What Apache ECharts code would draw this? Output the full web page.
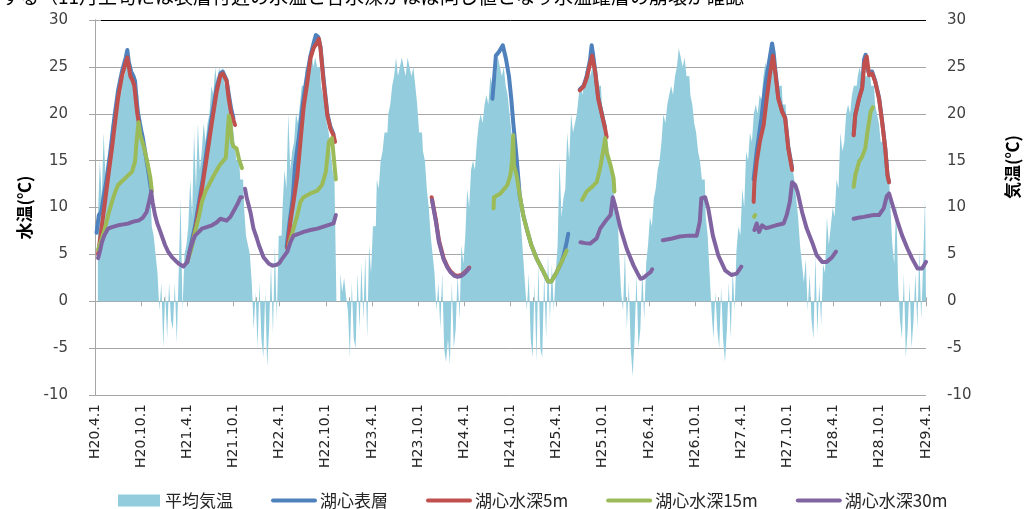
<!DOCTYPE html>
<html>
<head>
<meta charset="utf-8">
<script src="https://cdn.jsdelivr.net/npm/echarts@6/dist/echarts.min.js"></script>
<style>
html,body{margin:0;padding:0;background:#fff;}
#main{width:1025px;height:509px;}
</style>
</head>
<body>
<div id="main"></div>
<script>
// x = months since H20.4.1 ; air temp sampled every quarter month
var tickLabels = ['H20.4.1','H20.10.1','H21.4.1','H21.10.1','H22.4.1','H22.10.1','H23.4.1','H23.10.1',
	'H24.4.1','H24.10.1','H25.4.1','H25.10.1','H26.4.1','H26.10.1','H27.4.1','H27.10.1','H28.4.1','H28.10.1','H29.4.1'];

var airH20 = [null,null,9,15, 11,18,13,15, 16,19,17,20, 21,24,22,24.5, 24,26,25,25, 24,24,23,22, 20,19,17,16, 15,13,8,7, 5,3,-1,2, -5,1,-4,2, -2,-3,2,-4.5, 3,11,-1,5];
var airH21 = [6,8,13,9, 18,12,19,14, 16,19,17,19, 20,23,22,25, 23,25,24,25, 23,23,21,21, 19,17,15,15, 13,13,10,7, 6,5,2,-3, 1,-5,2,-4, -6,1,-7,-3, 4,-3.5,6,-2];
var airH22 = [7,7,10,14, 12,20,14,16, 17,20,19,21, 23,23,25,24, 25,26.5,25,26, 25,25,23,22, 21,19,18,16, 14,13,null,null, 3,1,2.5,0.5, -1,-6,2,-4, -5,3,-3,4, -2,5,-4,6];
var airH23 = [3,8,8,13, 12,15,16,18, 18,20,21,23, 24,26,24,25, 26,25,24,26, 25,24,25,23, 21,18,18,16, 15,12,10,7, 5,3,-1,2, -3,3,-5,-6.5, -4,-6.8,2,-5, -3,3,-2,6];
var airH24 = [4,7,12,10, 14,15,14,17, 19,20,19,21, 22,21,24,23, 25,24,26,25, 24,25,23,22, 20,18,16,14, 12,11,8,5, 2,-1,3,-4, -6,2,-6.5,4, -5,-6,3,-4, 5,-2,4,-1];
var airH25 = [3,6,15,9, 11,12,18,15, 20,18,19,20, 22,23,22,24, 25,26,24,25, 24,24,23,23, 21,20,18,17, 15,14,12,9, 10,5,1,-1, 5.5,-3,2,-5, -8,-4,3,-5, -3,3.5,-2,4];
var airH26 = [6,9,8,11, 12,14,15,17, 20,19,21,22, 23,22,24,25, 27,26,25,26, 24,24,22,21, 19,18,16,15, 13,13,9,7, 3,-1,-4,1, -3,-5,1.5,-4, -6.5,-3,2,-4, 3.5,-1,5.5,8];
var airH27 = [7,12,10,16, 15,18,17,20, 21,20,22,21.5, 24,25.5,24,25, 24,26,25,24, 23,23,21,21, 19,17,16,14.5, 13,11,9,6, 4,2,4.5,-1, 3,-2,-4,5, -3.5,2,-2.5,4, 3,9,6,8];
var airH28 = [10,9,13,12, 18,16,17,20, 21,20,22,23, 23,24,25,24, 25,24,24,25, 23,23,21,20, 19,17,17,15, 14,14.5,10,6, 4,10.5,2,-2, -4,3,-6,-3, 2,-5,-2,3, -3,5.5,-2,4, 11];

// water temperature segments: [month, value]
var surface = [
	[[0.2,7.3],[0.4,7.5],[0.5,9.2],[0.8,9.5],[1.1,11],[1.5,13],[2.0,16],[2.5,19.5],[3.0,22.5],[3.5,24.5],[4.0,26],[4.2,26.8],[4.4,25.5],[4.7,24.5],[5.0,24],[5.2,23.5],[5.5,20.5],[5.8,19],[6.2,17.5],[6.6,15.5],[7.0,13.5],[7.3,11.8]],
	[[12.0,4.3],[12.4,5.8],[13.0,8],[13.5,10.5],[14.0,13],[14.5,16],[15.2,19.8],[15.8,22.8],[16.3,24.3],[16.6,24.5],[17.1,23.6],[17.4,22],[17.7,20.5],[18.0,19.5]],
	[[24.9,5.8],[25.3,8.5],[25.7,11],[26.0,14.5],[26.5,17.5],[27.0,21],[27.5,23.8],[28.0,26.2],[28.4,27.5],[28.7,28.4],[29.0,28.2],[29.3,27.2],[29.7,23.8],[30.2,20],[30.6,18.6],[31.0,17.8]],
	[[51.65,21.6],[51.9,24.1],[52.1,26.2],[52.5,26.6],[53.0,27.3],[53.4,25.9],[53.8,24],[54.1,21.6],[54.35,19.1],[54.6,17],[54.8,15.2],[55.2,11.3],[55.65,9.2],[56.1,7.75],[56.7,6],[57.4,4.55],[58.3,3.1],[58.9,2.1],[59.3,2.1],[60.0,3.1],[60.65,4.2],[61.0,5.2],[61.3,6.3],[61.5,7.2]],
	[[63.0,22.6],[63.5,23],[63.9,24],[64.3,25.5],[64.55,27.3],[64.7,26.5],[65.0,24.6],[65.4,21.7],[65.9,19.9],[66.3,18.5]],
	[[85.6,13],[86.0,16],[86.6,19.5],[87.1,23],[87.6,25.5],[88.0,27.5],[88.2,26.5],[88.4,24.8],[88.8,21.8],[89.3,20.3],[89.7,19.6],[90.1,16.5],[90.6,14.2]],
	[[98.6,17.8],[98.8,19.9],[99.3,21.7],[99.7,22.8],[99.95,25.8],[100.15,26.3],[100.5,24.5],[101.0,24.5],[101.4,23.5],[101.9,21.7],[102.3,19.2],[102.7,16.4],[103.0,13.5],[103.2,12.7]]
];
var depth5 = [
	[[0.4,5],[0.8,7.5],[1.3,10.6],[1.75,13.5],[2.2,16.3],[2.6,19],[3.0,21.7],[3.5,24],[4.0,25.5],[4.2,26],[4.4,25],[4.6,24],[4.9,23.5],[5.1,23],[5.3,21.5],[5.5,20],[5.7,19]],
	[[12.0,4.2],[12.4,5.5],[12.7,6.3],[13.0,7.5],[13.3,8.8],[13.9,12],[14.5,15.2],[15.2,19.1],[15.8,22.3],[16.3,24.1],[16.6,24.3],[17.1,23.5],[17.4,21.5],[17.7,20],[18.0,19.3],[18.2,18.8]],
	[[25.0,5.6],[25.4,8.5],[25.8,10.6],[26.3,13.4],[26.7,17],[27.1,20.6],[27.6,23.4],[28.0,25.9],[28.4,27],[28.8,27.5],[29.1,28],[29.3,27],[29.7,23.4],[30.2,19.8],[30.6,18.4],[31.0,17.7],[31.2,17]],
	[[43.75,11.1],[44.3,8.7],[44.7,6.5],[45.3,4.6],[45.8,3.7],[46.2,3.2],[46.7,2.8],[47.1,2.7],[47.6,2.8],[48.0,3.05],[48.3,3.3],[48.65,3.6]],
	[[63.0,22.5],[63.5,22.9],[63.9,23.8],[64.3,25.2],[64.6,26.2],[65.0,24.5],[65.4,21.6],[65.9,19.8],[66.3,18.4],[66.5,17.5]],
	[[85.6,10.6],[85.7,12.7],[86.0,14.9],[86.4,17],[86.9,18.8],[87.3,21.6],[87.7,24.1],[88.1,26.2],[88.4,24.5],[88.8,21.6],[89.3,20.2],[89.7,19.5],[90.1,16.3],[90.6,14]],
	[[98.6,17.7],[98.8,19.8],[99.3,21.6],[99.7,22.7],[100.0,25.5],[100.3,26.1],[100.6,24.1],[101.0,24.3],[101.4,23.4],[101.9,21.6],[102.3,19.1],[102.7,16.3],[103.0,13.4],[103.2,12.7]]
];
var depth15 = [
	[[0.4,5.5],[0.8,6.5],[1.3,7.8],[1.75,9.3],[2.2,10.6],[2.6,11.6],[3.0,12.4],[3.5,12.8],[3.9,13.1],[4.4,13.5],[4.8,13.8],[5.2,14.9],[5.4,17],[5.65,19.1],[5.9,17.7],[6.3,16.6],[6.7,15.2],[7.0,14],[7.2,13.1],[7.4,11.7]],
	[[12.0,4.2],[12.5,5.5],[13.0,7.4],[13.5,9],[13.9,10.6],[14.4,11.8],[14.8,12.4],[15.3,13.2],[15.7,13.8],[16.2,14.5],[16.6,14.9],[17.0,15.3],[17.2,17.5],[17.4,19.8],[17.6,19],[17.8,17],[18.0,16.5],[18.4,16.3],[18.7,15.2],[19.1,14.2]],
	[[25.2,6],[25.8,7.75],[26.3,9.2],[26.7,10.6],[27.1,11.1],[28.0,11.5],[28.9,11.8],[29.5,12.4],[30.0,13.8],[30.4,17],[30.8,17.4],[31.0,15.6],[31.3,13]],
	[[51.8,9.9],[51.85,11.1],[52.7,11.5],[53.2,12],[53.6,12.4],[54.0,13.5],[54.2,15],[54.35,17.7],[54.45,14.5],[54.8,13.4],[55.2,11.3],[55.65,9.2],[56.1,7.75],[56.7,6],[57.4,4.55],[58.3,3.1],[58.9,2.1],[59.3,2.1],[60.0,3.1],[60.65,4.2],[61.3,5.4]],
	[[63.3,10.8],[63.9,11.7],[64.6,12.2],[65.2,12.7],[65.65,14.2],[66.1,16.3],[66.3,17.4],[66.5,15.9],[67.0,14.5],[67.4,13.1],[67.5,11.7]],
	[[85.65,9.0],[85.8,9.2]],
	[[98.6,12.2],[98.8,13.4],[99.3,14.9],[99.7,15.4],[100.1,16.3],[100.4,18.1],[100.8,20.2],[101.1,20.7]]
];
var depth30 = [
	[[0.4,4.6],[0.6,5.2],[0.9,6.3],[1.2,7.0],[1.7,7.75],[2.2,7.9],[3.0,8.1],[3.7,8.2],[4.35,8.3],[5.0,8.5],[5.65,8.6],[6.2,8.9],[6.7,9.5],[7.0,10.5],[7.3,11.7],[7.5,10.5],[7.8,9.2],[8.1,8.3],[8.5,7.4],[9.1,6.0],[9.5,5.3],[10.0,4.7],[10.5,4.3],[10.9,4.0],[11.5,3.7],[12.0,4.2],[12.4,5.6],[12.7,6.4],[13.0,7.0],[13.5,7.4],[13.9,7.75],[14.5,7.9],[15.2,8.1],[15.8,8.4],[16.3,8.8],[17.1,8.6],[17.6,9.0],[18.2,9.9],[18.6,10.5],[18.9,11.1],[19.1,11.1]],
	[[19.5,12.0],[19.7,11.1],[20.2,9.5],[20.6,7.75],[21.0,6.8],[21.3,6.0],[21.9,4.7],[22.6,4.0],[23.1,3.8],[23.65,3.9],[24.0,4.1],[24.3,4.5],[25.0,5.3],[25.4,6.3],[25.8,7.0],[26.5,7.2],[27.1,7.4],[28.0,7.6],[28.9,7.75],[30.2,8.1],[31.0,8.3],[31.3,9.2]],
	[[43.8,10.8],[44.3,8.5],[44.7,6.3],[45.3,4.5],[45.8,3.6],[46.2,3.1],[46.7,2.7],[47.1,2.6],[47.6,2.7],[48.0,2.95],[48.3,3.2],[48.6,3.5]],
	[[63.1,6.3],[63.7,6.2],[64.35,6.15],[65.2,6.7],[65.65,7.75],[66.3,8.5],[67.0,9.2],[67.3,11.1],[67.6,10.2],[68.3,7.75],[69.1,5.6],[70.0,3.8],[70.5,3.0],[70.9,2.4],[71.3,2.5],[71.7,2.8],[72.2,3.1],[72.4,3.4]],
	[[73.8,6.5],[75.0,6.7],[76.0,6.9],[77.2,7.0],[78.2,7.0],[78.4,7.75],[78.6,8.5],[78.8,11],[79.3,11.1],[79.7,9.9],[80.3,7.0],[81.0,4.9],[81.9,3.3],[82.7,2.8],[83.4,2.95],[84.0,3.7]],
	[[85.7,7.6],[86.0,8.3],[86.3,7.4],[86.7,8.1],[87.2,7.8],[87.7,7.9],[88.5,8.1],[89.5,8.3],[89.9,9.2],[90.3,10.6],[90.6,12.7],[91.0,12.4],[91.3,11.7],[91.9,9.5],[92.5,7.75],[93.2,6.3],[93.8,4.9],[94.5,4.2],[95.1,4.2],[95.8,4.7],[96.3,5.3]],
	[[98.6,8.8],[99.2,8.9],[99.9,9.0],[100.5,9.1],[101.2,9.2],[101.9,9.2],[102.5,9.9],[102.9,11.2],[103.2,11.5],[103.6,10.4],[104.3,8.5],[104.9,7.0],[105.6,5.6],[106.2,4.55],[106.9,3.5],[107.5,3.5],[108.0,4.2]]
];

var airTemp = [].concat(airH20, airH21, airH22, airH23, airH24, airH25, airH26, airH27, airH28);
var airData = airTemp.map(function(v, i) { return [i * 0.25, v]; });

function joinSegs(segs) {
	var out = [];
	segs.forEach(function(s, k) {
		if (k > 0) out.push([null, null]);
		out = out.concat(s);
	});
	return out;
}

var gray = '#a6a6a6';
var labelColor = '#404040';
var skyBlue = '#93cddd';
var jp = '"Noto Sans CJK JP", sans-serif';

function lineSeries(name, color, segs) {
	return {
		name: name,
		type: 'line',
		xAxisIndex: 0,
		yAxisIndex: 0,
		data: joinSegs(segs),
		symbol: 'none',
		showSymbol: false,
		connectNulls: false,
		color: color,
		lineStyle: { color: color, width: 4, cap: 'round', join: 'round' }
	};
}

function legendLine(name) {
	return { name: name, itemStyle: { opacity: 0 }, lineStyle: { width: 4 } };
}

var chart = echarts.init(document.getElementById('main'));
var option = {
	animation: false,
	backgroundColor: '#fff',
	textStyle: { fontFamily: '"DejaVu Sans", sans-serif' },
	grid: { left: 95, right: 99, top: 20, bottom: 114 },
	legend: {
		left: 113,
		top: 487,
		itemWidth: 42,
		itemHeight: 12,
		itemGap: 38,
		textStyle: { fontSize: 17, fontFamily: jp, color: '#262626' },
		data: [
			{ name: '平均気温', icon: 'rect', itemStyle: { color: skyBlue } },
			legendLine('湖心表層'),
			legendLine('湖心水深5m'),
			legendLine('湖心水深15m'),
			legendLine('湖心水深30m')
		]
	},
	graphic: [
		{
			type: 'text', x: 1, y: -13,
			style: { text: 'する（11月上旬には表層付近の水温と各水深がほぼ同じ値となり水温躍層の崩壊が確認', font: '19px "Noto Sans CJK JP"', fill: '#000' }
		},
		{
			type: 'text', x: 1013, y: 167, rotation: Math.PI / 2,
			style: { text: '気温(℃)', font: 'bold 17px "Noto Sans CJK JP"', fill: '#000', textAlign: 'center', textVerticalAlign: 'middle' }
		}
	],
	xAxis: [
		{
			type: 'value', min: 0, max: 108, interval: 6, position: 'bottom',
			axisLine: { show: true, lineStyle: { color: gray } },
			axisTick: { show: true, length: 5, lineStyle: { color: gray } },
			axisLabel: {
				rotate: 90, fontSize: 14, color: '#262626', margin: 9,
				formatter: function(v) { return tickLabels[Math.round(v / 6)]; }
			},
			splitLine: { show: false }
		},
		{
			type: 'value', min: 0, max: 108, interval: 3, position: 'bottom',
			axisLine: { show: false },
			axisTick: { show: true, inside: true, length: 4, lineStyle: { color: gray } },
			axisLabel: { show: false },
			splitLine: { show: false }
		}
	],
	yAxis: [
		{
			type: 'value', min: -10, max: 30, interval: 5, position: 'left',
			name: '水温(℃)', nameLocation: 'middle', nameGap: 60, nameRotate: 90,
			nameTextStyle: { fontSize: 17, fontWeight: 'bold', fontFamily: jp, color: '#000' },
			axisLine: { show: true, lineStyle: { color: gray } },
			axisTick: { show: true, length: 6, lineStyle: { color: gray } },
			axisLabel: { fontSize: 15, color: labelColor, margin: 27 },
			splitLine: { show: true, lineStyle: { color: [gray, gray, gray, gray, gray, gray, gray, gray, '#000'] } }
		},
		{
			type: 'value', min: -10, max: 30, interval: 5, position: 'right',
			axisLine: { show: true, lineStyle: { color: gray } },
			axisTick: { show: true, length: 6, lineStyle: { color: gray } },
			axisLabel: { fontSize: 15, color: labelColor, margin: 21 },
			splitLine: { show: false }
		}
	],
	series: [
		{
			// daily mean air temperature, drawn as stepped columns from zero
			name: '平均気温',
			type: 'line',
			step: 'middle',
			xAxisIndex: 0,
			yAxisIndex: 1,
			data: airData,
			symbol: 'none',
			showSymbol: false,
			connectNulls: false,
			color: skyBlue,
			lineStyle: { width: 0, color: skyBlue },
			areaStyle: { color: skyBlue, opacity: 1, origin: 0 }
		},
		lineSeries('湖心表層', '#4f81bd', surface),
		lineSeries('湖心水深5m', '#c0504d', depth5),
		lineSeries('湖心水深15m', '#9bbb59', depth15),
		lineSeries('湖心水深30m', '#8064a2', depth30)
	]
};
chart.setOption(option);
</script>
</body>
</html>
